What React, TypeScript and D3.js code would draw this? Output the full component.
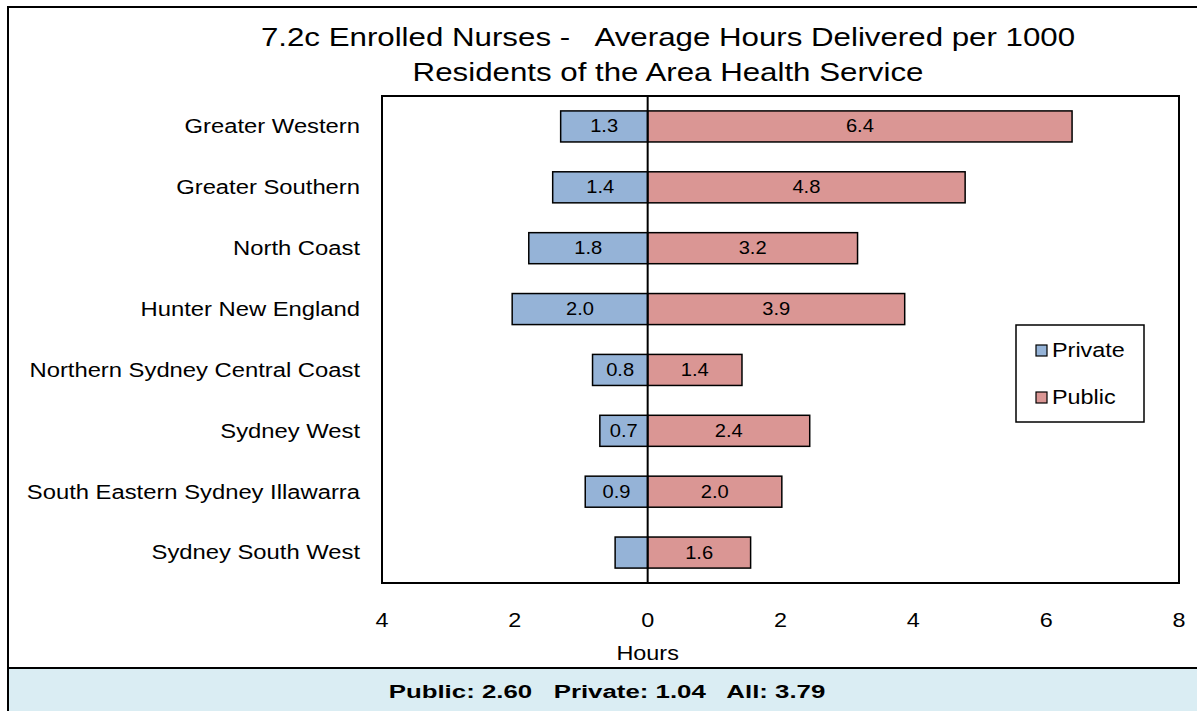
import React from "react";
import * as d3 from "d3";

const categories = [
  "Greater Western",
  "Greater Southern",
  "North Coast",
  "Hunter New England",
  "Northern Sydney Central Coast",
  "Sydney West",
  "South Eastern Sydney Illawarra",
  "Sydney South West",
];
const privateValues = [1.31, 1.43, 1.79, 2.04, 0.83, 0.72, 0.94, 0.49];
const publicValues = [6.39, 4.78, 3.16, 3.87, 1.42, 2.44, 2.02, 1.55];
const privateLabels = ["1.3", "1.4", "1.8", "2.0", "0.8", "0.7", "0.9", ""];
const publicLabels = ["6.4", "4.8", "3.2", "3.9", "1.4", "2.4", "2.0", "1.6"];
const tickValues = [-4, -2, 0, 2, 4, 6, 8];
const tickLabels = ["4", "2", "0", "2", "4", "6", "8"];
const titleLines = [
  "7.2c Enrolled Nurses -   Average Hours Delivered per 1000",
  "Residents of the Area Health Service",
];
const seriesNames = ["Private", "Public"];
const summaryText = "Public: 2.60   Private: 1.04   All: 3.79";
const xTitle = "Hours";

const COLORS = { Private: "#95b3d7", Public: "#da9694" };
const FONT = "'Liberation Sans', Arial, sans-serif";
const SX = 1.2;

function T({ x, y, size, anchor = "middle", sx = SX, weight = "normal", children }: any) {
  return (
    <text
      transform={`translate(${x},${y}) scale(${sx},1)`}
      fontFamily={FONT}
      fontSize={size}
      fontWeight={weight}
      textAnchor={anchor}
      dominantBaseline="central"
      fill="#000"
      style={{ whiteSpace: "pre" }}
    >
      {children}
    </text>
  );
}

export default function App() {
  const W = 1197;
  const H = 711;
  const plot = { left: 382, right: 1179, top: 96, bottom: 583 };
  const x = d3.scaleLinear().domain([-4, 8]).range([plot.left, plot.right]);
  const y = d3
    .scaleBand<string>()
    .domain(categories)
    .range([plot.top, plot.bottom])
    .paddingInner(0.49)
    .paddingOuter(0.245);
  const bw = y.bandwidth();

  return (
    <svg
      width={W}
      height={H}
      style={{ position: "absolute", left: 0, top: 0, background: "#fff" }}
    >
      {/* outer frame */}
      <rect x={8} y={7} width={1250} height={800} fill="#fff" stroke="#000" strokeWidth={2} />
      {/* summary band */}
      <rect x={8} y={668} width={1250} height={100} fill="#daedf3" stroke="#000" strokeWidth={2} />
      <T x={607} y={691} size={19} weight="bold" sx={1.36}>
        {summaryText}
      </T>

      {/* title */}
      {titleLines.map((t, i) => (
        <T key={i} x={668} y={37 + i * 35} size={26.5} sx={1.18}>
          {t}
        </T>
      ))}

      {/* plot frame */}
      <rect
        x={plot.left}
        y={plot.top}
        width={plot.right - plot.left}
        height={plot.bottom - plot.top}
        fill="#fff"
        stroke="#000"
        strokeWidth={2}
      />

      {/* bars */}
      {categories.map((c, i) => {
        const yy = y(c)!;
        const pv = privateValues[i];
        const uv = publicValues[i];
        return (
          <g key={c}>
            <rect
              x={x(-pv)}
              y={yy}
              width={x(0) - x(-pv)}
              height={bw}
              fill={COLORS.Private}
              stroke="#000"
              strokeWidth={1.5}
            />
            <rect
              x={x(0)}
              y={yy}
              width={x(uv) - x(0)}
              height={bw}
              fill={COLORS.Public}
              stroke="#000"
              strokeWidth={1.5}
            />
            {privateLabels[i] && (
              <T x={(x(-pv) + x(0)) / 2} y={yy + bw / 2} size={17.5} sx={1.15}>
                {privateLabels[i]}
              </T>
            )}
            <T x={(x(uv) + x(0)) / 2} y={yy + bw / 2} size={17.5} sx={1.15}>
              {publicLabels[i]}
            </T>
            <T x={360} y={yy + bw / 2} size={20} anchor="end" sx={1.19}>
              {c}
            </T>
          </g>
        );
      })}

      {/* zero line */}
      <line x1={x(0)} x2={x(0)} y1={plot.top} y2={plot.bottom} stroke="#000" strokeWidth={2} />

      {/* ticks */}
      {tickValues.map((v, i) => (
        <T key={v} x={x(v)} y={621} size={19.5}>
          {tickLabels[i]}
        </T>
      ))}
      <T x={x(0)} y={654} size={19.5}>
        {xTitle}
      </T>

      {/* legend */}
      <rect x={1016} y={325} width={128} height={97} fill="#fff" stroke="#000" strokeWidth={1.5} />
      {seriesNames.map((s, i) => (
        <g key={s}>
          <rect
            x={1036}
            y={345 + i * 47}
            width={11}
            height={11}
            fill={(COLORS as any)[s]}
            stroke="#000"
            strokeWidth={1.2}
          />
          <T x={1052} y={351 + i * 47} size={19.5} anchor="start">
            {s}
          </T>
        </g>
      ))}
    </svg>
  );
}
